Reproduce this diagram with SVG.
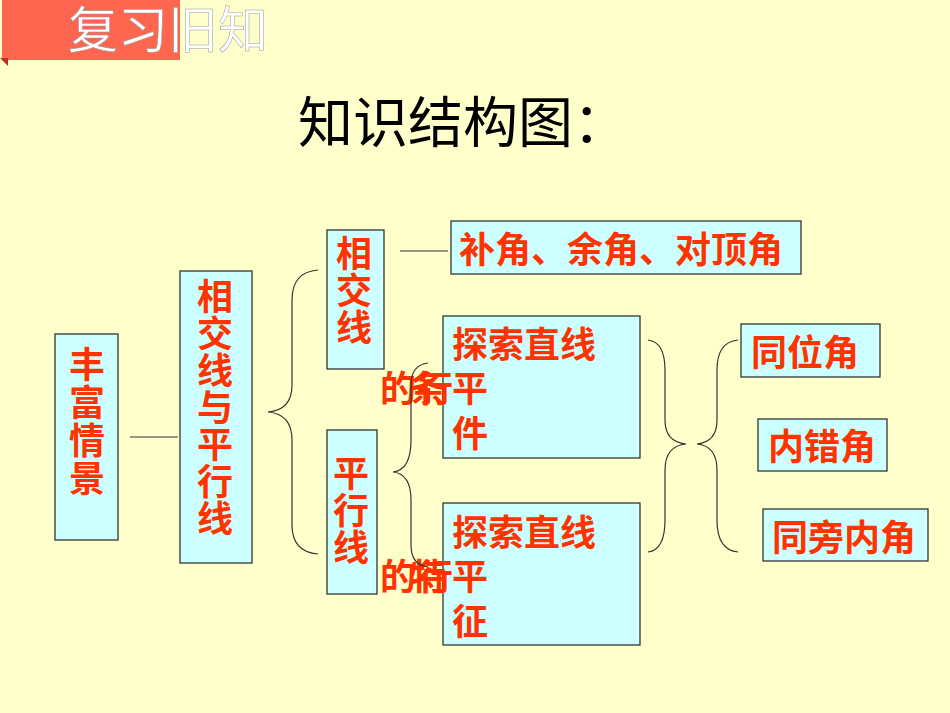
<svg xmlns="http://www.w3.org/2000/svg" width="950" height="713" viewBox="0 0 950 713">
<style>
.b{fill:#CCFFFF;stroke:#333;stroke-width:1.3}
.t{font-family:"Noto Sans CJK SC",sans-serif;font-size:36px;fill:#FF3300;font-weight:bold}
.l{fill:none;stroke:#333;stroke-width:1.2}
</style>
<rect width="950" height="713" fill="#FFFFCC"/>
<g id="header">
<rect x="2" y="0" width="178" height="60" fill="#FF6650"/>
<path d="M0 58 L8 66 L8 58Z" fill="#C03020"/>
<text x="68" y="48" font-family="Noto Sans CJK SC,sans-serif" font-size="50" fill="#fff" stroke="#999" stroke-width="0.5">复习旧知</text>
</g>
<text x="298" y="142" font-family="Noto Sans CJK SC,sans-serif" font-size="55" fill="#000">知识结构图：</text>
<g id="n1"><rect class="b" x="55" y="334" width="63" height="206"/>
<text class="t" x="69" y="378">丰</text><text class="t" x="69" y="416">富</text><text class="t" x="69" y="454">情</text><text class="t" x="69" y="492">景</text></g>
<g id="n2"><rect class="b" x="180" y="271" width="72" height="292"/>
<text class="t" x="197" y="310">相</text><text class="t" x="197" y="347">交</text><text class="t" x="197" y="384">线</text><text class="t" x="197" y="421">与</text><text class="t" x="197" y="458">平</text><text class="t" x="197" y="495">行</text><text class="t" x="197" y="532">线</text></g>
<g id="n3"><rect class="b" x="327" y="230" width="57" height="139"/>
<text class="t" x="336" y="267">相</text><text class="t" x="336" y="304">交</text><text class="t" x="336" y="341">线</text></g>
<g id="n4"><rect class="b" x="327" y="430" width="50" height="164"/>
<text class="t" x="333" y="487">平</text><text class="t" x="333" y="524">行</text><text class="t" x="333" y="561">线</text></g>
<g id="n5"><rect class="b" x="451" y="221" width="350" height="53"/>
<text class="t" x="459" y="263">补角、余角、对顶角</text></g>
<g id="n6"><rect class="b" x="443" y="316" width="197" height="142"/>
<text class="t" x="452" y="358">探索直线</text><text class="t" x="452" y="402">平</text><text class="t" x="452" y="447">件</text>
<text class="t" x="380" y="402">的</text><text class="t" x="410" y="402">条</text><text class="t" x="417" y="402">行</text></g>
<g id="n7"><rect class="b" x="443" y="503" width="197" height="142"/>
<text class="t" x="452" y="546">探索直线</text><text class="t" x="452" y="590">平</text><text class="t" x="452" y="635">征</text>
<text class="t" x="380" y="590">的</text><text class="t" x="410" y="590">特</text><text class="t" x="417" y="590">行</text></g>
<g id="n8"><rect class="b" x="741" y="324" width="139" height="53"/><text class="t" x="751" y="366">同位角</text></g>
<g id="n9"><rect class="b" x="758" y="419" width="129" height="52"/><text class="t" x="768" y="460">内错角</text></g>
<g id="n10"><rect class="b" x="763" y="509" width="165" height="52"/><text class="t" x="772" y="551">同旁内角</text></g>
<g id="connectors">
<line class="l" x1="130" y1="437" x2="178" y2="437"/>
<line class="l" x1="400" y1="251" x2="448" y2="251"/>
<path class="l" d="M318 270 Q292 272 292 300 L292 385 Q292 410 268 412 Q292 414 292 440 L292 525 Q292 552 318 554"/>
<path class="l" d="M428 363 Q411 365 411 385 L411 440 Q411 470 393 472 Q411 474 411 500 L411 545 Q411 565 428 567"/>
<path class="l" d="M648 340 Q665 342 665 370 L665 420 Q665 442 686 444 Q665 446 665 470 L665 520 Q665 550 648 552"/>
<path class="l" d="M738 340 Q717 342 717 370 L717 420 Q717 442 697 444 Q717 446 717 470 L717 520 Q717 550 738 552"/>
</g>
</svg>
